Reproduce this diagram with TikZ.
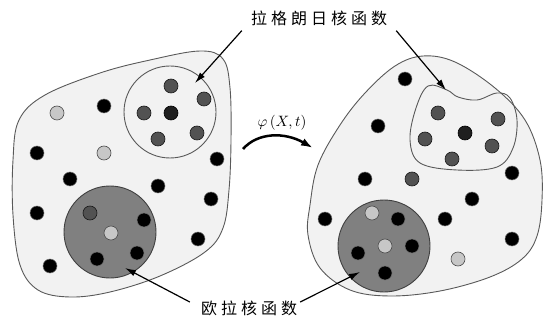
\documentclass[tikz,border=0pt]{standalone}
\usepackage{fontspec}
\newfontfamily\cjk{Noto Sans CJK SC}
\usetikzlibrary{arrows.meta}
\begin{document}
\begin{tikzpicture}[x=1pt,y=-1pt,
  blob/.style={fill=black!5, draw=black!65, line width=0.9pt},
  region/.style={draw=black!65, line width=0.9pt},
  eulerdisk/.style={fill=black!50, draw=black!75, line width=0.9pt},
  dotk/.style={fill=black, draw=black!55, line width=0.5pt},
  dotd/.style={fill=black!68, draw=black!90, line width=0.6pt},
  dotc/.style={fill=black!88, draw=black, line width=0.6pt},
  dotl/.style={fill=black!22, draw=black!70, line width=0.6pt},
  lbl/.style={font=\cjk\fontsize{16}{18}\selectfont, inner sep=1pt},
  ptr/.style={line width=1.2pt, -{Latex[length=11pt,width=6.5pt]}},
]
\useasboundingbox (0,0) rectangle (545,320);
% left blob
\draw[blob] plot[smooth cycle, tension=0.6] coordinates {
  (13,160) (19,120) (45,95) (100,73) (150,60) (200,51) (223,59) (230,88)
  (231,140) (229,190) (223,228) (205,252) (160,276) (110,292) (70,297)
  (38,290) (20,265) (13,215)};
% right blob
\draw[blob] plot[smooth cycle, tension=0.6] coordinates {
  (310,205) (318,165) (340,125) (365,93) (395,66) (423,56) (455,62)
  (495,88) (525,120) (540,160) (542,200) (537,236) (522,259) (490,277)
  (440,291) (390,296) (350,290) (320,268) (308,235)};
% Lagrange regions
\draw[region] (170,112) circle[radius=46pt];
\draw[region] plot[smooth cycle, tension=0.6] coordinates {
  (447,90) (428,86) (416,108) (410,140) (420,163) (457,170) (497,167)
  (513,148) (517,120) (510,98) (497,93) (477,100) (458,97)};
% Euler disks
\draw[eulerdisk] (110,232) circle[radius=46pt];
\draw[eulerdisk] (384,246) circle[radius=46pt];
% dots left
\foreach \p in {(104,106),(37,153),(70,179),(158,186),(217,159),(211,199),
  (37,213),(198,239),(50,266),(144,220),(137,253),(97,259)}
  \draw[dotk] \p circle[radius=7pt];
\foreach \p in {(57,113),(104,153),(111,233)}
  \draw[dotl] \p circle[radius=7pt];
\foreach \p in {(171,86),(204,99),(144,113),(197,133),(158,139),(90,213)}
  \draw[dotd] \p circle[radius=7pt];
\draw[dotc] (171,113) circle[radius=7pt];
% dots right
\foreach \p in {(405,79),(378,126),(365,179),(472,199),(512,173),(325,219),
  (445,219),(512,239),(398,219),(412,246),(358,253),(385,273)}
  \draw[dotk] \p circle[radius=7pt];
\foreach \p in {(458,259),(372,213),(385,246)}
  \draw[dotl] \p circle[radius=7pt];
\foreach \p in {(438,113),(498,119),(425,139),(492,146),(452,159),(412,179)}
  \draw[dotd] \p circle[radius=7pt];
\draw[dotc] (465,133) circle[radius=7pt];
% labels
\node[lbl] (lag) at (319,18) {拉\hspace{4pt}格\hspace{4pt}朗\hspace{4pt}日\hspace{4pt}核\hspace{4pt}函\hspace{4pt}数};
\node[lbl] (eul) at (249,308) {欧\hspace{4pt}拉\hspace{4pt}核\hspace{4pt}函\hspace{4pt}数};
\node[inner sep=1pt] (phi) at (282,123) {\scalebox{1.5}{$\varphi\,(X,t)$}};
% pointer coordinates
\coordinate (lagL) at (195,83);
\coordinate (lagR) at (446,90);
\coordinate (eulL) at (125,268);
\coordinate (eulR) at (360,272);
\coordinate (mapA) at (243,149);
\coordinate (mapB) at (313,148);
\draw[ptr] (lag.south west) ++(-8,4) -- (lagL);
\draw[ptr] (lag.south east) ++(8,4) -- (lagR);
\draw[ptr] (eul.west) ++(-10,-6) -- (eulL);
\draw[ptr] (eul.east) ++(2,-6) -- (eulR);
\draw[line width=2.5pt, -{Latex[length=12pt,width=8pt]}] (mapA) .. controls (258,132) and (285,132) .. (mapB);
\end{tikzpicture}
\end{document}
